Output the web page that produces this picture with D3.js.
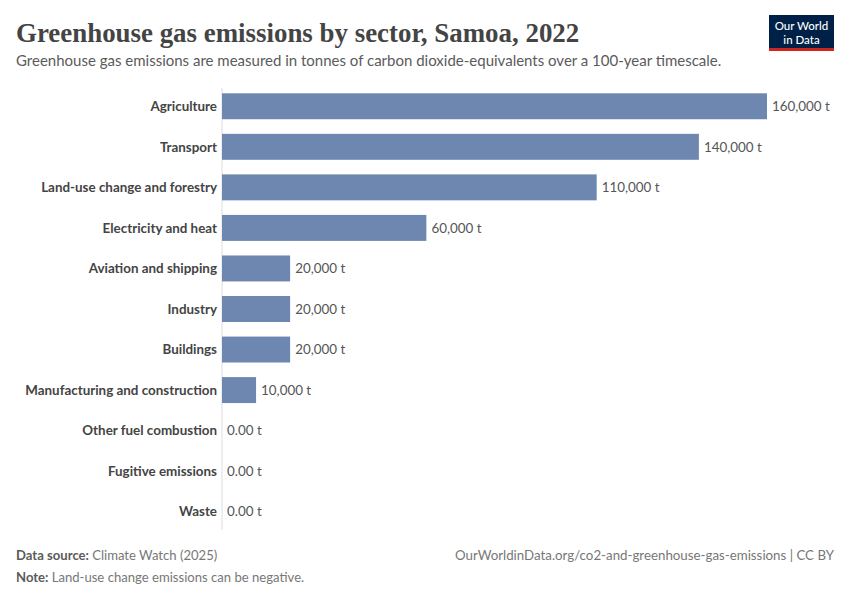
<!DOCTYPE html>
<html>
<head>
<meta charset="utf-8">
<script src="https://cdn.jsdelivr.net/npm/d3@7"></script>
<style>
  body { margin: 0; background: #fff; }
  text { font-family: Lato, "Noto Sans", sans-serif; }
</style>
</head>
<body>
<div id="chart"></div>
<script>
// sectors and emissions (tonnes CO2e), Samoa 2022
var sectors = ["Agriculture", "Transport", "Land-use change and forestry", "Electricity and heat",
    "Aviation and shipping", "Industry", "Buildings", "Manufacturing and construction",
    "Other fuel combustion", "Fugitive emissions", "Waste"];
var emissions = [160000, 140000, 110000, 60000, 20000, 20000, 20000, 10000, 0, 0, 0];
var valueLabels = ["160,000 t", "140,000 t", "110,000 t", "60,000 t", "20,000 t", "20,000 t",
    "20,000 t", "10,000 t", "0.00 t", "0.00 t", "0.00 t"];

var width = 850, height = 600;

var svg = d3.select("#chart").append("svg")
    .attr("width", width)
    .attr("height", height);

// title + subtitle
svg.append("text")
    .attr("x", 16).attr("y", 42)
    .style("font-family", "'Liberation Serif', 'DejaVu Serif', serif")
    .style("font-weight", "bold")
    .style("font-size", "26.9px")
    .style("fill", "#444")
    .text("Greenhouse gas emissions by sector, Samoa, 2022");

svg.append("text")
    .attr("x", 16).attr("y", 66)
    .style("font-size", "15px")
    .style("fill", "#5b5b5b")
    .text("Greenhouse gas emissions are measured in tonnes of carbon dioxide-equivalents over a 100-year timescale.");

// logo
var logo = svg.append("g").attr("transform", "translate(769,15)");
logo.append("rect").attr("width", 65).attr("height", 36).style("fill", "#002147");
logo.append("rect").attr("y", 33).attr("width", 65).attr("height", 3).style("fill", "#ce261e");
logo.append("text").attr("x", 32.5).attr("y", 15).attr("text-anchor", "middle")
    .style("fill", "#fff").style("font-size", "11.5px").style("font-weight", 500).text("Our World");
logo.append("text").attr("x", 32.5).attr("y", 29).attr("text-anchor", "middle")
    .style("fill", "#fff").style("font-size", "11.5px").style("font-weight", 500).text("in Data");

// scales
var x = d3.scaleLinear()
    .domain([0, 160000])
    .range([222, 767]);

var y = d3.scaleBand()
    .domain(sectors)
    .range([86, 532])
    .paddingInner(0.36)
    .paddingOuter(0.18);

// axis line
svg.append("line")
    .attr("x1", x(0)).attr("x2", x(0))
    .attr("y1", 88).attr("y2", 530)
    .style("stroke", "#ddd")
    .style("stroke-width", 1);

var rows = svg.append("g").selectAll(".row")
    .data(sectors)
    .enter()
    .append("g")
    .attr("class", "row");

rows.append("rect")
    .attr("x", x(0))
    .attr("y", function (d) { return y(d); })
    .attr("width", function (d, i) { return x(emissions[i]) - x(0); })
    .attr("height", y.bandwidth())
    .style("fill", "#6d87b0");

rows.append("text")
    .attr("x", 217)
    .attr("y", function (d) { return y(d) + y.bandwidth() / 2; })
    .attr("dy", "0.35em")
    .attr("text-anchor", "end")
    .style("font-size", "13.4px")
    .style("font-weight", "bold")
    .style("fill", "#444")
    .text(function (d) { return d; });

rows.append("text")
    .attr("x", function (d, i) { return x(emissions[i]) + 5; })
    .attr("y", function (d) { return y(d) + y.bandwidth() / 2; })
    .attr("dy", "0.35em")
    .style("font-size", "13.4px")
    .style("fill", "#555")
    .text(function (d, i) { return valueLabels[i]; });

// footer
var src = svg.append("text").attr("x", 16).attr("y", 560)
    .style("font-size", "13.1px").style("fill", "#777");
src.append("tspan").style("font-weight", "bold").style("fill", "#5b5b5b").text("Data source: ");
src.append("tspan").text("Climate Watch (2025)");

var note = svg.append("text").attr("x", 16).attr("y", 582)
    .style("font-size", "13.1px").style("fill", "#777");
note.append("tspan").style("font-weight", "bold").style("fill", "#5b5b5b").text("Note: ");
note.append("tspan").text("Land-use change emissions can be negative.");

svg.append("text").attr("x", 834).attr("y", 560)
    .attr("text-anchor", "end")
    .style("font-size", "13.3px").style("fill", "#777")
    .text("OurWorldinData.org/co2-and-greenhouse-gas-emissions | CC BY");
</script>
</body>
</html>
